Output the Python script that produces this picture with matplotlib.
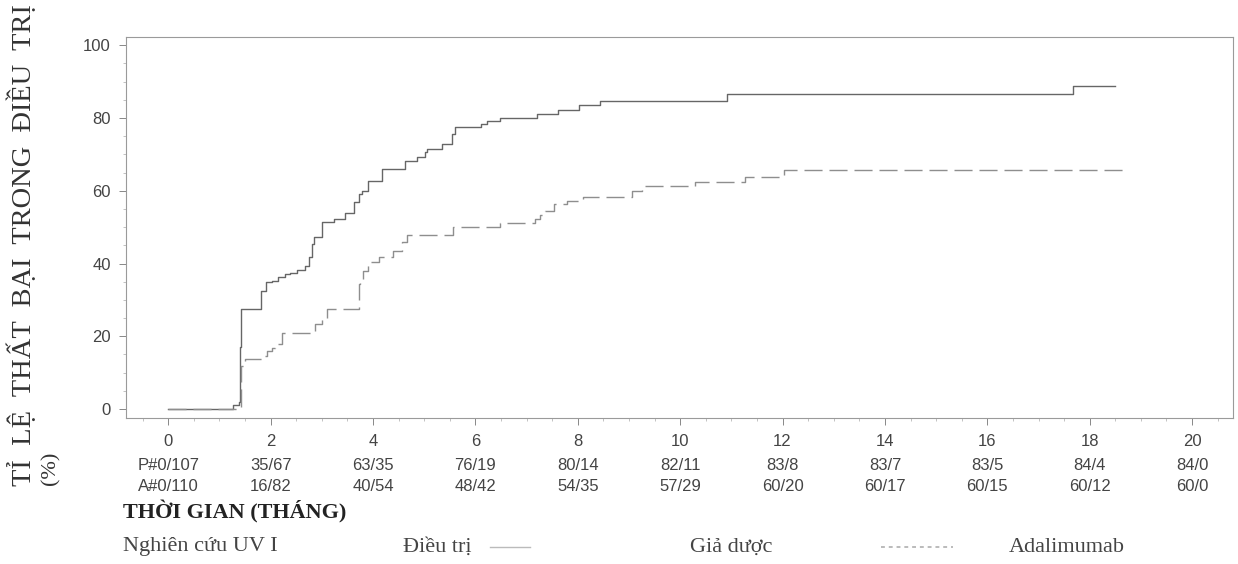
import matplotlib

matplotlib.use("Agg")
import matplotlib.pyplot as plt
from matplotlib.lines import Line2D
from matplotlib.ticker import MultipleLocator


# Kaplan-Meier style cumulative treatment failure (%)
placebo_months = [0, 1.27, 1.39, 1.40, 1.43, 1.81, 1.91, 2.02, 2.15, 2.29, 2.38, 2.51, 2.68,
                  2.74, 2.81, 2.84, 3.0, 3.23, 3.46, 3.62, 3.72, 3.79, 3.91, 4.17, 4.63, 4.86,
                  5.02, 5.05, 5.34, 5.54, 5.6, 6.1, 6.22, 6.48, 7.2, 7.62, 8.02, 8.44, 10.91,
                  17.68, 18.5]
placebo_pct = [0, 1, 2, 17, 27.5, 32.5, 34.8, 35.3, 36.2, 37.1, 37.5, 38.2, 39.4,
               41.7, 45.4, 47.2, 51.3, 52.2, 54.0, 56.8, 59.1, 60.0, 62.8, 66.0, 68.3, 69.2,
               70.6, 71.5, 72.9, 75.6, 77.5, 78.4, 79.1, 80.0, 81.0, 82.1, 83.5, 84.8, 86.5,
               88.7, 88.7]

ada_months = [0, 1.40, 1.42, 1.50, 1.83, 1.93, 2.02, 2.09, 2.22, 2.87, 3.0, 3.1, 3.72, 3.75,
              3.81, 3.91, 4.11, 4.4, 4.56, 4.66, 5.57, 6.48, 7.17, 7.27, 7.36, 7.53, 7.79,
              8.11, 9.06, 9.25, 10.29, 11.27, 12.02, 18.72]
ada_pct = [0, 0.5, 11.8, 13.7, 14.6, 16.0, 16.9, 17.8, 21.0, 23.3, 24.7, 27.5, 34.4, 35.3,
           38.0, 40.3, 41.9, 43.5, 45.8, 47.8, 50.1, 51.2, 52.2, 53.2, 54.5, 56.4, 57.3,
           58.2, 59.9, 61.2, 62.3, 63.9, 65.6, 65.6]

# number at risk table (events / at risk)
risk_months = [0, 2, 4, 6, 8, 10, 12, 14, 16, 18, 20]
placebo_risk = ["P#0/107", "35/67", "63/35", "76/19", "80/14", "82/11", "83/8", "83/7",
                "83/5", "84/4", "84/0"]
ada_risk = ["A#0/110", "16/82", "40/54", "48/42", "54/35", "57/29", "60/20", "60/17",
            "60/15", "60/12", "60/0"]

SERIF = "Liberation Serif"
SANS = "Liberation Sans"
TEXT_GREY = "#444444"

fig = plt.figure(figsize=(12.38, 5.64), dpi=100)
ax = fig.add_axes([0.102, 0.258, 0.894, 0.676])

ax.step(placebo_months, placebo_pct, where="post", color="#666666", linewidth=1.0)
ax.step(ada_months, ada_pct, where="post", color="#8e8e8e", linewidth=1.0,
        linestyle=(0, (13, 5)))

ax.set_xlim(-0.82, 20.8)
ax.set_ylim(-2.6, 102.2)
ax.set_xticks(risk_months)
ax.set_yticks([0, 20, 40, 60, 80, 100])
ax.xaxis.set_minor_locator(MultipleLocator(0.5))
ax.yaxis.set_minor_locator(MultipleLocator(5))
ax.tick_params(which="major", direction="out", length=5, width=0.7, color="#888888",
               labelsize=12, labelcolor=TEXT_GREY, pad=6)
ax.tick_params(which="minor", direction="out", length=2, width=0.5, color="#aaaaaa")
for label in ax.get_xticklabels() + ax.get_yticklabels():
    label.set_family(SANS)
for spine in ax.spines.values():
    spine.set_color("#9a9a9a")
    spine.set_linewidth(0.8)

# at-risk rows under the tick labels
trans = ax.get_xaxis_transform()
for m, p, a in zip(risk_months, placebo_risk, ada_risk):
    ax.text(m, -0.123, p, transform=trans, ha="center", va="center", fontsize=12,
            color=TEXT_GREY, family=SANS, clip_on=False)
    ax.text(m, -0.178, a, transform=trans, ha="center", va="center", fontsize=12,
            color=TEXT_GREY, family=SANS, clip_on=False)

# y label, bottom aligned, with the unit on a second column
fig.text(0.018, 1 - 486 / 564, "TỈ  LỆ  THẤT  BẠI  TRONG  ĐIỀU  TRỊ", rotation=90,
         ha="center", va="bottom", fontsize=20.5, color="#333333", family=SERIF)
fig.text(0.041, 1 - 485 / 564, "(%)", rotation=90, ha="center", va="bottom",
         fontsize=16, color="#333333", family=SERIF)

fig.text(0.0994, 1 - 512 / 564, "THỜI GIAN (THÁNG)", ha="left", va="center",
         fontsize=16, fontweight="bold", color="#222222", family=SERIF)

# legend line at the bottom
legend_y = 1 - 547 / 564
fig.text(0.0994, legend_y, "Nghiên cứu UV I", ha="left", va="center", fontsize=16,
         color=TEXT_GREY, family=SERIF)
fig.text(0.3255, legend_y, "Điều trị", ha="left", va="center", fontsize=16,
         color=TEXT_GREY, family=SERIF)
fig.add_artist(Line2D([0.396, 0.428], [legend_y, legend_y], transform=fig.transFigure,
                      color="#bbbbbb", linewidth=1.0))
fig.text(0.557, legend_y, "Giả dược", ha="left", va="center", fontsize=16,
         color=TEXT_GREY, family=SERIF)
fig.add_artist(Line2D([0.712, 0.77], [legend_y, legend_y], transform=fig.transFigure,
                      color="#bbbbbb", linewidth=1.4, linestyle=(0, (2, 2))))
fig.text(0.815, legend_y, "Adalimumab", ha="left", va="center", fontsize=16,
         color=TEXT_GREY, family=SERIF)

fig.savefig("out.png", dpi=100, facecolor="white")
